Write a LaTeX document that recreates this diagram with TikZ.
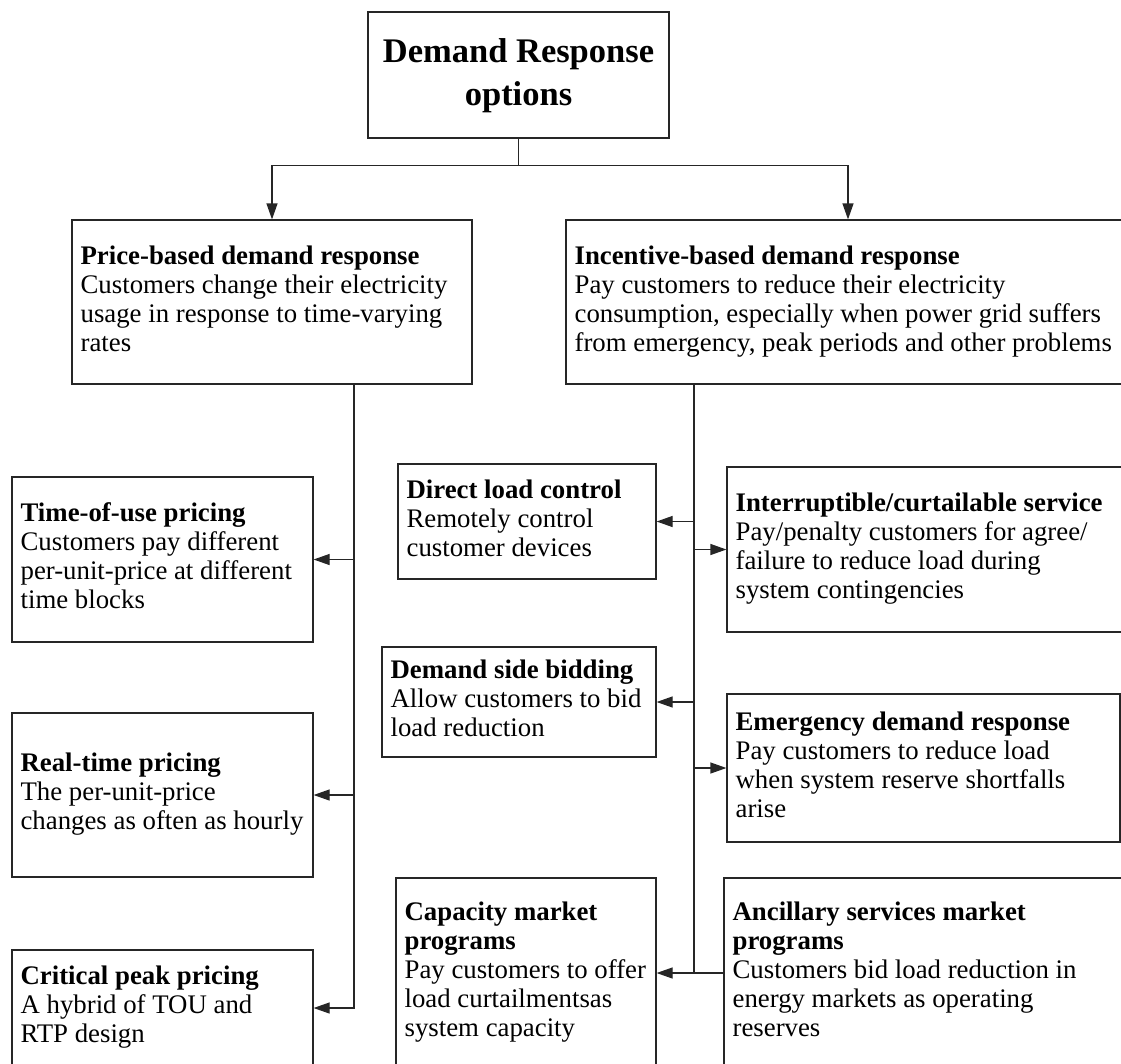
\documentclass[tikz,border=0pt]{standalone}
\usepackage{fontspec}
\setmainfont{Liberation Serif}
\usetikzlibrary{arrows.meta}
\newcommand\bodyfont{\fontsize{26.8pt}{29pt}\selectfont}
\newcommand\headfont{\fontsize{34.5pt}{43pt}\selectfont\bfseries}
\tikzset{
  boxst/.style={draw=black!85, line width=1.2pt, rectangle, inner sep=0pt, fill=white},
  txtst/.style={inner sep=0pt, align=left, font=\bodyfont, text=black},
  headst/.style={inner sep=0pt, align=center, font=\headfont, text=black},
  link/.style={draw=black!85, line width=1.2pt},
  arr/.style={link, -{Triangle[length=16pt,width=11pt]}}
}
% name, x1, y1, x2, y2
\newcommand\drbox[5]{\node[boxst, minimum width={(#4)-(#2)}, minimum height={(#5)-(#3)}] (#1) at ({((#2)+(#4))/2},{((#3)+(#5))/2}) {};}
\newcommand\drtext[2]{\node[txtst, anchor=west] (#1-t) at ([xshift=9pt]#1.west) {\strut #2\strut};}
\begin{document}
\begin{tikzpicture}[x=1pt,y=-1pt]
\useasboundingbox (0,0) rectangle (1121,1063);
% boxes
\drbox{t}{368}{12}{669}{138}
\drbox{p}{72}{220}{472}{384}
\drbox{i}{566}{220}{1130}{384}
\drbox{tou}{12}{477}{313}{642}
\drbox{rt}{12}{713}{313}{877}
\drbox{cpp}{12}{950}{313}{1066}
\drbox{dlc}{398}{464}{656}{579}
\drbox{int}{727}{467}{1140}{632}
\drbox{dsb}{382}{647}{656}{757}
\drbox{em}{727}{694}{1120}{842}
\drbox{cap}{396}{878}{656}{1068}
\drbox{anc}{724}{878}{1140}{1068}
% texts
\node[headst] (t-t) at (t.center) {\strut Demand Response\\options\strut};
\drtext{p}{\textbf{Price-based demand response}\\Customers change their electricity\\usage in response to time-varying\\rates}
\drtext{i}{\textbf{Incentive-based demand response}\\Pay customers to reduce their electricity\\consumption, especially when power grid suffers\\from emergency, peak periods and other problems}
\drtext{tou}{\textbf{Time-of-use pricing}\\Customers pay different\\per-unit-price at different\\time blocks}
\drtext{rt}{\textbf{Real-time pricing}\\The per-unit-price\\changes as often as hourly}
\drtext{cpp}{\textbf{Critical peak pricing}\\A hybrid of TOU and\\RTP design}
\drtext{dlc}{\textbf{Direct load control}\\Remotely control\\customer devices}
\drtext{int}{\textbf{Interruptible/curtailable service}\\Pay/penalty customers for agree/\\failure to reduce load during\\system contingencies}
\drtext{dsb}{\textbf{Demand side bidding}\\Allow customers to bid\\load reduction}
\drtext{em}{\textbf{Emergency demand response}\\Pay customers to reduce load\\when system reserve shortfalls\\arise}
\drtext{cap}{\textbf{Capacity market}\\\textbf{programs}\\Pay customers to offer\\load curtailmentsas\\system capacity}
\drtext{anc}{\textbf{Ancillary services market}\\\textbf{programs}\\Customers bid load reduction in\\energy markets as operating\\reserves}
% top connectors
\draw[arr] (t.south) -- ++(0,27) -| (p.north);
\draw[arr] (t.south) -- ++(0,27) -| (i.north);
% spines
\coordinate (sL) at ([xshift=82pt]p.south);
\coordinate (sR) at ([xshift=-154pt]i.south);
\draw[arr] (sL) |- (cpp.east);
\draw[arr] (sL |- tou.east) -- (tou.east);
\draw[arr] (sL |- rt.east) -- (rt.east);
\draw[link] (sR) -- (sR |- cap.east);
\draw[arr] (sR |- dlc.east) -- (dlc.east);
\draw[arr] (sR |- int.west) -- (int.west);
\draw[arr] (sR |- dsb.east) -- (dsb.east);
\draw[arr] (sR |- em.west) -- (em.west);
\draw[arr] (anc.west) -- (cap.east);
\end{tikzpicture}
\end{document}
